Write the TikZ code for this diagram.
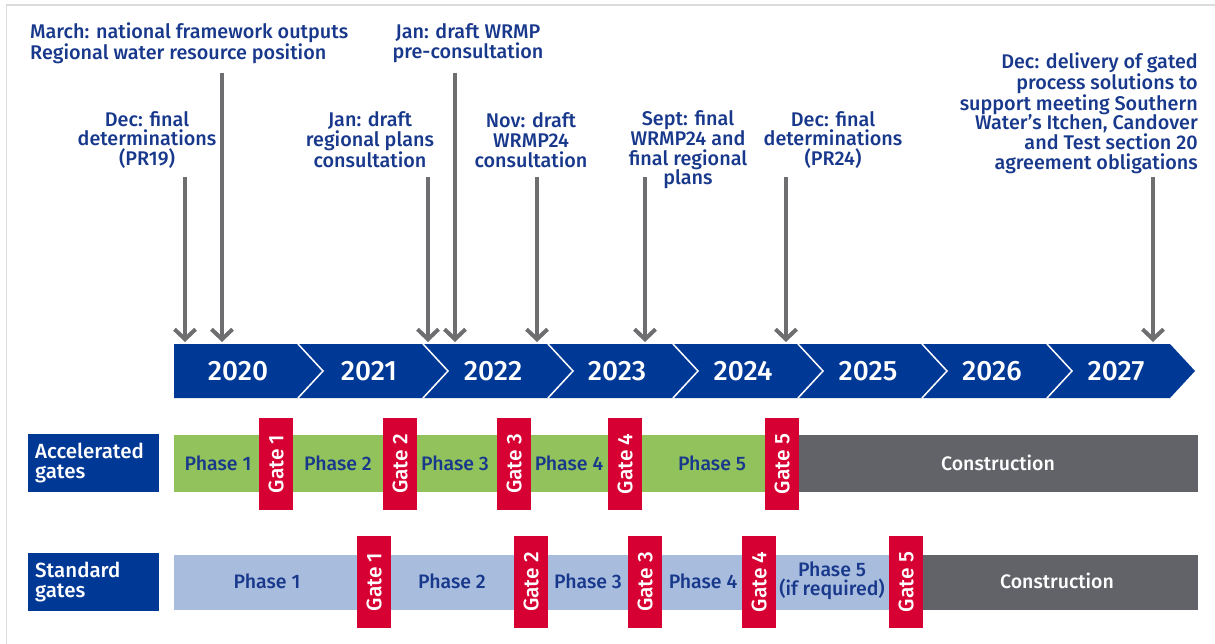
\documentclass[tikz,border=0pt]{standalone}
\usepackage{fontspec}
\setmainfont{Fira Sans Medium}
\usetikzlibrary{arrows.meta}
\definecolor{navy}{RGB}{0,56,150}
\definecolor{inkblue}{RGB}{24,56,140}
\definecolor{leaf}{RGB}{146,194,92}
\definecolor{haze}{RGB}{168,188,222}
\definecolor{slate}{RGB}{97,99,104}
\definecolor{gatered}{RGB}{214,0,50}
\definecolor{pin}{RGB}{110,110,113}
\definecolor{rulegray}{RGB}{220,220,220}
\begin{document}
\begin{tikzpicture}[x=1pt,y=-1pt,
  lbl/.style={text=inkblue,font=\fontsize{19.8}{19.7}\selectfont,inner sep=0pt,align=center},
  pinarrow/.style={draw=pin,line width=4pt,-{Straight Barb[length=10pt,width=21pt]}},
  yearlbl/.style={text=white,font=\fontsize{28}{28}\selectfont,inner sep=0pt},
  rowtag/.style={fill=navy,text=white,font=\fontsize{20.5}{19.5}\selectfont,text width=117pt,
    inner xsep=7pt,inner ysep=0pt,minimum height=58pt,align=left,anchor=north west},
  gatebox/.style={fill=gatered,text=white,font=\fontsize{21}{21}\selectfont,rotate=90,
    minimum width=92pt,minimum height=34pt,inner sep=0pt},
  phase/.style={text=inkblue,font=\fontsize{19.5}{19.5}\selectfont,inner sep=0pt,align=center},
  build/.style={text=white,font=\fontsize{19.5}{19.5}\selectfont,inner sep=0pt}
]
\useasboundingbox (0,0) rectangle (1215,644);
\fill[white] (0,0) rectangle (1215,644);
% outer frame
\draw[rulegray,line width=1.5pt] (6.5,644) -- (6.5,5) -- (1215,5);

% milestone labels
\node[lbl,align=left,anchor=west] (march) at (30,43) {March: national framework outputs\\Regional water resource position};
\node[lbl] (pre) at (468,43) {Jan: draft WRMP\\pre-consultation};
\node[lbl] (pr19) at (147,140) {Dec: final\\determinations\\(PR19)};
\node[lbl] (regional) at (370,140) {Jan: draft\\regional plans\\consultation};
\node[lbl] (nov) at (531,140) {Nov: draft\\WRMP24\\consultation};
\node[lbl] (sept) at (688,150) {Sept: final\\WRMP24 and\\final regional\\plans};
\node[lbl] (pr24) at (833,140) {Dec: final\\determinations\\(PR24)};
\node[lbl,align=right,anchor=east] (delivery) at (1198,113) {Dec: delivery of gated\\process solutions to\\support meeting Southern\\Water’s Itchen, Candover\\and Test section 20\\agreement obligations};

% year banner
\fill[navy] (174,344) -- (1170,344) -- (1195,371) -- (1170,398) -- (174,398) -- cycle;
\foreach \s in {298,423,548,673,798,922,1047}
  \draw[white,line width=1.5pt] (\s,344) -- (\s+25,371) -- (\s,398);
\foreach \yr/\cx in {2020/238,2021/369,2022/493,2023/617,2024/743,2025/868,2026/992,2027/1116}
  \node[yearlbl] (y\yr) at (\cx,371) {\yr};

% milestone arrows
\foreach \nm/\ax/\ay in {a1/185/177,a2/222/73,a3/428/177,a4/455/73,a5/537/177,a6/645/177,a7/786/177,a8/1153/177}{
  \coordinate (\nm s) at (\ax,\ay);
  \coordinate (\nm e) at (\ax,342);
  \draw[pinarrow] (\nm s) -- (\nm e);
}

% accelerated gates row
\node[rowtag] (acc) at (28,434) {Accelerated\\gates};
\fill[leaf] (174,435) rectangle (800,492);
\fill[slate] (798,435) rectangle (1198,492);
\node[phase] (ap1) at (218,463) {Phase 1};
\node[phase] (ap2) at (338,463) {Phase 2};
\node[phase] (ap3) at (455,463) {Phase 3};
\node[phase] (ap4) at (569,463) {Phase 4};
\node[phase] (ap5) at (712,463) {Phase 5};
\node[build] (ac) at (998,463) {Construction};
\node[gatebox] (ag1) at (276,464) {Gate 1};
\node[gatebox] (ag2) at (400,464) {Gate 2};
\node[gatebox] (ag3) at (514,464) {Gate 3};
\node[gatebox] (ag4) at (625,464) {Gate 4};
\node[gatebox] (ag5) at (782,464) {Gate 5};

% standard gates row
\node[rowtag] (std) at (28,553) {Standard\\gates};
\fill[haze] (174,555) rectangle (892,610);
\fill[slate] (890,555) rectangle (1198,610);
\node[phase] (sp1) at (267,581) {Phase 1};
\node[phase] (sp2) at (452,581) {Phase 2};
\node[phase] (sp3) at (588,581) {Phase 3};
\node[phase] (sp4) at (703,581) {Phase 4};
\node[phase] (sp5) at (832,581) {Phase 5\\(if required)};
\node[build] (sc) at (1057,581) {Construction};
\node[gatebox] (sg1) at (374,582) {Gate 1};
\node[gatebox] (sg2) at (531,582) {Gate 2};
\node[gatebox] (sg3) at (645,582) {Gate 3};
\node[gatebox] (sg4) at (759,582) {Gate 4};
\node[gatebox] (sg5) at (906,582) {Gate 5};
\end{tikzpicture}
\end{document}
